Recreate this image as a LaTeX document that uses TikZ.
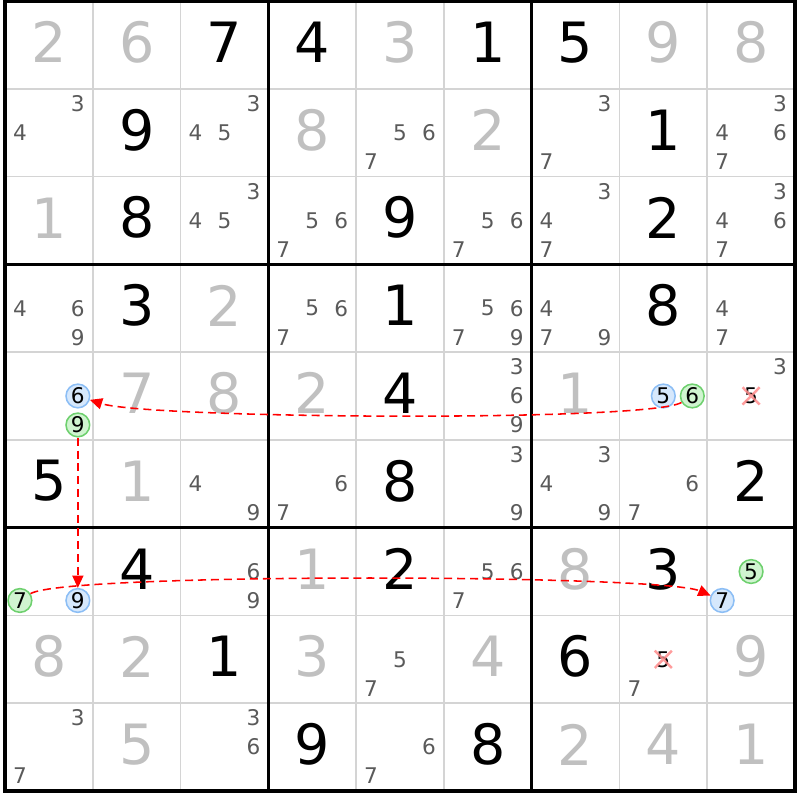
\documentclass[tikz,border=0pt]{standalone}
\usepackage{fontspec}
\setmainfont{DejaVu Sans}
\usepackage{tikz}
\usetikzlibrary{arrows.meta,calc}
\definecolor{cellgray}{RGB}{192,192,192}
\definecolor{candgray}{RGB}{90,90,90}
\definecolor{gridgray}{RGB}{212,212,212}
\definecolor{bluefill}{RGB}{214,232,252}
\definecolor{blueline}{RGB}{140,190,245}
\definecolor{greenfill}{RGB}{208,244,208}
\definecolor{greenline}{RGB}{110,208,110}
\definecolor{crosspink}{RGB}{255,140,140}

\begin{document}
\begin{tikzpicture}[x=1cm,y=-1cm,
  given/.style={font=\fontsize{18}{18}\selectfont,inner sep=0pt},
  solved/.style={given,text=cellgray},
  cand/.style={font=\fontsize{7}{7}\selectfont,text=candgray,inner sep=0pt},
  bluecand/.style={circle,draw=blueline,fill=bluefill,line width=0.5pt,minimum size=0.27cm,inner sep=0pt,font=\fontsize{7}{7}\selectfont},
  greencand/.style={bluecand,draw=greenline,fill=greenfill},
  struck/.style={font=\fontsize{7}{7}\selectfont,inner sep=0pt,minimum size=0.18cm},
  link/.style={red,dash pattern=on 2.6pt off 1.6pt,line width=0.5pt,->,>={Triangle[length=4pt,width=3.6pt]}}]
  \useasboundingbox (-0.057,-0.011) rectangle (9.057,9.103);
  \foreach \i in {1,2,4,5,7,8} {
    \draw[gridgray,line width=0.5pt] (\i,0) -- (\i,9);
    \draw[gridgray,line width=0.5pt] (0,\i) -- (9,\i);
  }
  \foreach \i in {0,3,6,9} {
    \draw[line width=1.1pt] (\i,-0.02) -- (\i,9.02);
    \draw[line width=1.1pt] (-0.02,\i) -- (9.02,\i);
  }
  \foreach \r/\c/\d in {1/3/7,1/4/4,1/6/1,1/7/5,2/2/9,2/8/1,3/2/8,3/5/9,3/8/2,4/2/3,4/5/1,4/8/8,
    5/5/4,6/1/5,6/5/8,6/9/2,7/2/4,7/5/2,7/8/3,8/3/1,8/7/6,9/4/9,9/6/8}
    \node[given] (v\r\c) at (\c-0.5,\r-0.53) {\d};
  \foreach \r/\c/\d in {1/1/2,1/2/6,1/5/3,1/8/9,1/9/8,2/4/8,2/6/2,3/1/1,4/3/2,5/2/7,5/3/8,5/4/2,
    5/7/1,6/2/1,7/4/1,7/7/8,8/1/8,8/2/2,8/4/3,8/6/4,8/9/9,9/2/5,9/7/2,9/8/4,9/9/1}
    \node[solved] (v\r\c) at (\c-0.5,\r-0.53) {\d};
  \foreach \r/\c/\k in {2/1/3,2/1/4,2/3/3,2/3/4,2/3/5,2/5/5,2/5/6,2/5/7,2/7/3,2/7/7,2/9/3,2/9/4,2/9/6,2/9/7,
    3/3/3,3/3/4,3/3/5,3/4/5,3/4/6,3/4/7,3/6/5,3/6/6,3/6/7,3/7/3,3/7/4,3/7/7,3/9/3,3/9/4,3/9/6,3/9/7,
    4/1/4,4/1/6,4/1/9,4/4/5,4/4/6,4/4/7,4/6/5,4/6/6,4/6/7,4/6/9,4/7/4,4/7/7,4/7/9,4/9/4,4/9/7,
    5/6/3,5/6/6,5/6/9,5/9/3,
    6/3/4,6/3/9,6/4/6,6/4/7,6/6/3,6/6/9,6/7/3,6/7/4,6/7/9,6/8/6,6/8/7,
    7/3/6,7/3/9,7/6/5,7/6/6,7/6/7,
    8/5/5,8/5/7,8/8/7,
    9/1/3,9/1/7,9/3/3,9/3/6,9/5/6,9/5/7} {
    \pgfmathsetmacro\dx{0.33*(mod(\k-1,3)-1)}
    \pgfmathsetmacro\dy{0.33*(floor((\k-1)/3)-1)}
    \node[cand] (p\r\c\k) at (\c-0.5+\dx,\r-0.5+\dy) {\k};
  }
  \node[bluecand] (sixA) at (0.83,4.5) {6};
  \node[greencand] (nineA) at (0.83,4.83) {9};
  \node[bluecand] (fiveB) at (7.5,4.5) {5};
  \node[greencand] (sixB) at (7.83,4.5) {6};
  \node[greencand] (sevenC) at (0.17,6.83) {7};
  \node[bluecand] (nineC) at (0.83,6.83) {9};
  \node[greencand] (fiveD) at (8.5,6.5) {5};
  \node[bluecand] (sevenD) at (8.17,6.83) {7};
  \node[struck] (xA) at (8.5,4.5) {5};
  \node[struck] (xB) at (7.5,7.5) {5};
  \draw[crosspink,line width=0.8pt,opacity=0.85] (xA.north west) -- (xA.south east) (xA.north east) -- (xA.south west);
  \draw[crosspink,line width=0.8pt,opacity=0.85] (xB.north west) -- (xB.south east) (xB.north east) -- (xB.south west);
  \draw[link] (sixB) .. controls +(-0.5,0.3) and +(0.8,0.26) .. (sixA);
  \draw[link] (nineA) -- (nineC);
  \draw[link] (sevenC) .. controls +(0.5,-0.32) and +(-0.7,-0.3) .. (sevenD);
\end{tikzpicture}
\end{document}
